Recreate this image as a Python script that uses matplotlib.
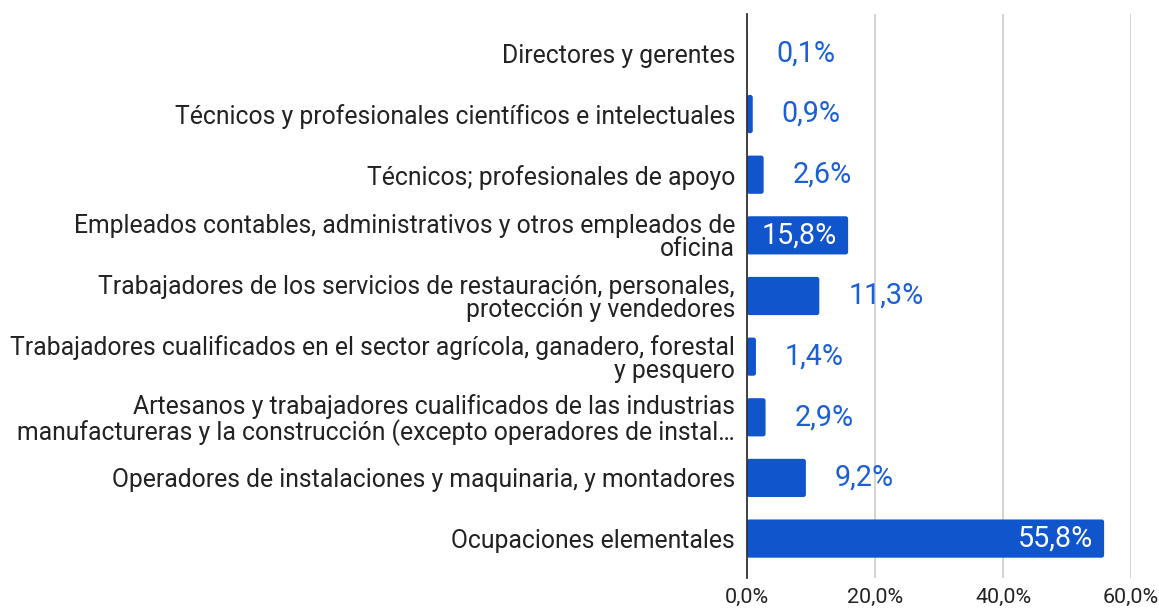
import matplotlib
matplotlib.use("Agg")
import matplotlib.pyplot as plt
from matplotlib.ticker import FuncFormatter
from matplotlib.patches import FancyBboxPatch

categories = [
    "Directores y gerentes",
    "Técnicos y profesionales científicos e intelectuales",
    "Técnicos; profesionales de apoyo",
    "Empleados contables, administrativos y otros empleados de\noficina",
    "Trabajadores de los servicios de restauración, personales,\nprotección y vendedores",
    "Trabajadores cualificados en el sector agrícola, ganadero, forestal\ny pesquero",
    "Artesanos y trabajadores cualificados de las industrias\nmanufactureras y la construcción (excepto operadores de instal…",
    "Operadores de instalaciones y maquinaria, y montadores",
    "Ocupaciones elementales",
]
values = [0.1, 0.9, 2.6, 15.8, 11.3, 1.4, 2.9, 9.2, 55.8]
xticks = [0, 20, 40, 60]

plt.rcParams['font.family'] = ['Roboto', 'DejaVu Sans']

W, H = 1159, 608
fig = plt.figure(figsize=(W / 100, H / 100), dpi=100)
ax = fig.add_axes([747 / W, 1 - 578 / H, (1131 - 747) / W, (578 - 14) / H])

bar_color = "#1155cc"
label_color = "#1a5fd6"

ax.set_xlim(0, 60)
ax.set_ylim(8.65, -0.65)

y = list(range(len(categories)))
bars = ax.barh(y, values, height=0.63, color=bar_color, zorder=3)

# rounded corners for bars
xpx = 60 / (1131 - 747)          # data units per pixel in x
ypx = 9.3 / (578 - 14)           # data units per pixel in y
aspect = ypx / xpx
for b in bars:
    x0, y0 = b.get_x(), b.get_y()
    w, h = b.get_width(), b.get_height()
    r = min(2.5 * xpx, w / 2)
    fb = FancyBboxPatch((x0, y0), w, h,
                        boxstyle=f"round,pad=0,rounding_size={r}",
                        mutation_aspect=aspect,
                        facecolor=bar_color, edgecolor="none", zorder=3)
    ax.add_patch(fb)
    b.set_visible(False)

ax.set_yticks(y)
ax.set_yticklabels(categories, fontsize=17.8, color="#222222", linespacing=0.97)
ax.tick_params(axis='y', length=0, pad=8.6)

ax.set_xticks(xticks)
ax.xaxis.set_major_formatter(FuncFormatter(lambda v, p: f"{v:.1f}%".replace(".", ",")))
ax.tick_params(axis='x', length=0, pad=7, labelsize=15.4, labelcolor="#222222")

ax.grid(axis='x', color="#cccccc", linewidth=1.2, zorder=0)
for s in ["top", "right", "bottom"]:
    ax.spines[s].set_visible(False)
ax.spines["left"].set_color("#333333")
ax.spines["left"].set_linewidth(1.3)
ax.spines["left"].set_zorder(4)

for yi, v in zip(y, values):
    txt = f"{v:.1f}%".replace(".", ",")
    if v > 15:
        ax.text(v - 11 * xpx, yi, txt, ha="right", va="center", color="white",
                fontsize=20.7, zorder=5)
    else:
        ax.text(v + 29 * xpx, yi, txt, ha="left", va="center", color=label_color,
                fontsize=20.7, zorder=5)

fig.savefig("out.png", dpi=100)
